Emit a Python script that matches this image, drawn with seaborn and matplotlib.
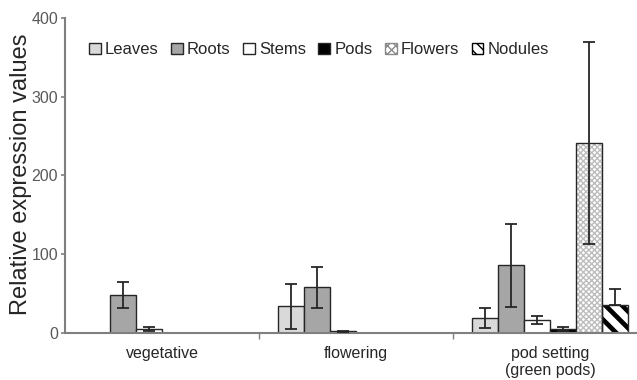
import matplotlib
matplotlib.use("Agg")
import matplotlib.pyplot as plt
from matplotlib.patches import Patch, Rectangle
import numpy as np
import pandas as pd
import seaborn as sns

# Developmental stages and tissues
stages = ["vegetative", "flowering", "pod setting\n(green pods)"]
tissues = ["Leaves", "Roots", "Stems", "Pods", "Flowers", "Nodules"]

# Mean relative expression per tissue (vegetative, flowering, pod setting)
leaves = [1.0, 34.0, 19.5]
roots = [48.0, 58.5, 86.0]
stems = [5.5, 2.5, 17.0]
pods = [0.0, 0.0, 5.5]
flowers = [0.0, 0.0, 241.0]
nodules = [0.0, 0.0, 36.0]

# Standard deviations (upper whisker) and lower whisker lengths
leaves_err = [0.0, 29.0, 13.0]
roots_err = [16.5, 26.0, 53.0]
stems_err = [2.5, 1.0, 5.5]
pods_err = [0.0, 0.0, 3.0]
flowers_err = [0.0, 0.0, 128.0]
nodules_err = [0.0, 0.0, 20.0]
nodules_err_low = [0.0, 0.0, 0.0]

means = [leaves, roots, stems, pods, flowers, nodules]
err_hi = [leaves_err, roots_err, stems_err, pods_err, flowers_err, nodules_err]
err_lo = [leaves_err, roots_err, stems_err, pods_err, flowers_err, nodules_err_low]

df = pd.DataFrame(
    [(s, t, means[i][j]) for i, t in enumerate(tissues) for j, s in enumerate(stages)],
    columns=["stage", "tissue", "value"],
)

sns.set_theme(style="white")
plt.rcParams["font.family"] = ["Liberation Sans", "DejaVu Sans"]

fills = {"Leaves": "#d9d9d9", "Roots": "#a6a6a6", "Stems": "#ffffff",
         "Pods": "#000000", "Flowers": "#ffffff", "Nodules": "#ffffff"}
edge = "#262626"
gray_txt = "#595959"
spine_col = "#7f7f7f"

fig = plt.figure(figsize=(6.37, 3.80), dpi=100)
ax = fig.add_axes([65 / 637, (380 - 333.3) / 380, 582 / 637, (333.3 - 17.7) / 380])

sns.barplot(data=df, x="stage", y="value", hue="tissue", order=stages,
            hue_order=tissues, palette=fills, errorbar=None, width=0.8,
            edgecolor=edge, linewidth=1.0, saturation=1, legend=False, ax=ax)

# Patterned fills for flowers and nodules, then error bars
for i, (tissue, cont) in enumerate(zip(tissues, ax.containers)):
    for j, bar in enumerate(cont.patches):
        x0, w, h = bar.get_x(), bar.get_width(), bar.get_height()
        if tissue == "Flowers" and h > 0:
            bar.set_hatch("xxxxxx")
            bar.set_edgecolor("#bdbdbd")
            bar.set_linewidth(0)
            ax.add_patch(Rectangle((x0, 0), w, h, fill=False, edgecolor=edge,
                                   linewidth=1.0, zorder=bar.get_zorder() + 0.1))
        if tissue == "Nodules" and h > 0:
            bar.set_hatch("\\\\")
            bar.set_edgecolor("#000000")
            try:
                bar.set_hatch_linewidth(3.4)
            except AttributeError:
                pass
            bar.set_linewidth(0)
            ax.add_patch(Rectangle((x0, 0), w, h, fill=False, edgecolor=edge,
                                   linewidth=1.0, zorder=bar.get_zorder() + 0.1))
        hi, lo = err_hi[i][j], err_lo[i][j]
        if hi > 0 or lo > 0:
            ax.errorbar(x0 + w / 2, h, yerr=[[lo], [hi]], fmt="none",
                        ecolor="#262626", elinewidth=1.3, capsize=4.5,
                        capthick=1.3, zorder=5)

ax.set_ylim(0, 400)
ax.set_xlim(-0.5, 2.5)
ax.set_yticks([0, 100, 200, 300, 400])
ax.tick_params(axis="y", which="major", direction="out", length=3, width=1.2,
               color=spine_col, labelcolor=gray_txt, labelsize=11.5, pad=2, left=True)

# Category labels centred, tick marks on the boundaries between stages
ax.set_xticks([0.5, 1.5])
ax.set_xticklabels([])
ax.set_xticks([0, 1, 2], minor=True)
ax.set_xticklabels(stages, minor=True)
ax.tick_params(axis="x", which="major", direction="out", length=4, width=1.0,
               color=spine_col, bottom=True)
ax.tick_params(axis="x", which="minor", length=0, labelsize=11.5,
               labelcolor="#262626", pad=9)

ax.set_xlabel("")
ax.set_ylabel("Relative expression values", fontsize=17, color="#262626")
ax.yaxis.set_label_coords((32 - 65) / 582, 0.505)

for side in ["top", "right"]:
    ax.spines[side].set_visible(False)
for side in ["left", "bottom"]:
    ax.spines[side].set_color(spine_col)
    ax.spines[side].set_linewidth(1.5)

handles = []
for t in tissues:
    if t == "Flowers":
        handles.append(Patch(facecolor="#ffffff", edgecolor="#8a8a8a", hatch="xxxx", linewidth=1))
    elif t == "Nodules":
        handles.append(Patch(facecolor="#ffffff", edgecolor="#000000", hatch="\\\\\\", linewidth=1))
    else:
        handles.append(Patch(facecolor=fills[t], edgecolor=edge, linewidth=1))

leg = ax.legend(handles, tissues, loc="center",
                bbox_to_anchor=((319 - 65) / 582, (333.3 - 50) / 315.6),
                ncol=6, frameon=False, fontsize=12, handlelength=0.7, handleheight=0.7,
                handletextpad=0.25, columnspacing=0.75, borderaxespad=0)
for txt in leg.get_texts():
    txt.set_color("#262626")

fig.savefig("out.png", dpi=100)
